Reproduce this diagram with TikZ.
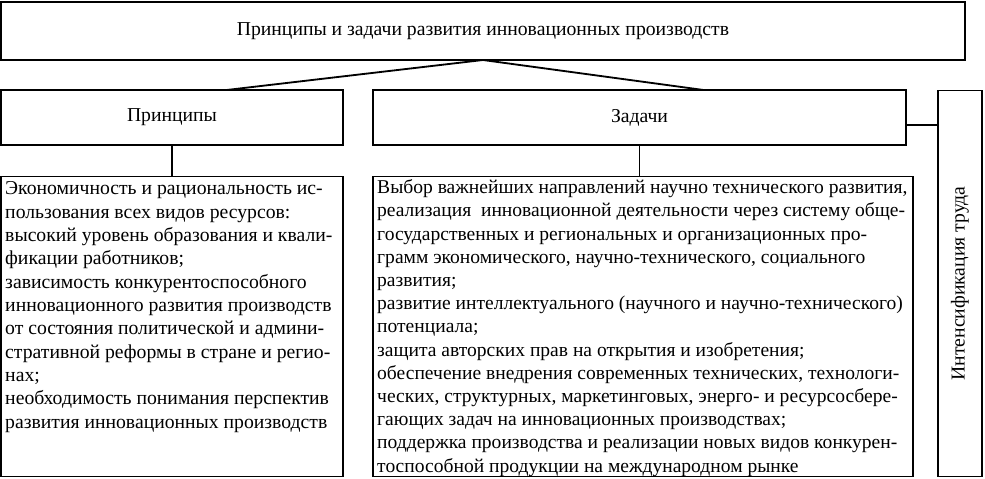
\documentclass[tikz,border=0pt]{standalone}
\usepackage{fontspec}
\setmainfont{Liberation Serif}
\usetikzlibrary{positioning,calc}

\begin{document}
\begin{tikzpicture}[
    x=0.025cm, y=-0.025cm,
    box/.style={rectangle, draw, line width=1.3pt, inner sep=0pt, outer sep=0pt, align=center},
    listtext/.style={anchor=north west, inner sep=0pt, align=left},
    link/.style={line width=1.3pt},
    every node/.style={font=\fontsize{14}{16.5}\selectfont}
]
    \useasboundingbox (0,0) rectangle (985,479);

    % Title
    \node[box, minimum width=24.1cm, minimum height=1.45cm] (title) at (483,31)
        {Принципы и задачи развития инновационных производств};

    % Second level
    \node[box, minimum width=8.55cm, minimum height=1.375cm] (prin) at (172,117.5) {Принципы};
    \node[box, minimum width=13.325cm, minimum height=1.375cm] (zad) at (639.5,117.5) {Задачи};
    \node[box, minimum width=1.1cm, minimum height=9.65cm] (intens) at (960,283.5)
        {\rotatebox{90}{Интенсификация труда}};

    % Lists
    \node[box, minimum width=8.55cm, minimum height=7.5cm] (prinlist) at (172,326.5) {};
    \node[box, minimum width=13.5cm, minimum height=7.5cm] (zadlist) at (643,326.5) {};

    \node[listtext, font=\fontsize{14}{16.6}\selectfont] (printext) at ([shift={(4,5)}]prinlist.north west)
        {Экономичность и рациональность ис-\\
         пользования всех видов ресурсов:\\
         высокий уровень образования и квали-\\
         фикации работников;\\
         зависимость конкурентоспособного\\
         инновационного развития производств\\
         от состояния политической и админи-\\
         стративной реформы в стране и регио-\\
         нах;\\
         необходимость понимания перспектив\\
         развития инновационных производств};

    \node[listtext, font=\fontsize{13.9}{16.5}\selectfont] (zadtext) at ([shift={(4,3)}]zadlist.north west)
        {Выбор важнейших направлений научно технического развития,\\
         реализация\ \ инновационной деятельности через систему обще-\\
         государственных и региональных и организационных про-\\
         грамм экономического, научно-технического, социального\\
         развития;\\
         развитие интеллектуального (научного и научно-технического)\\
         потенциала;\\
         защита авторских прав на открытия и изобретения;\\
         обеспечение внедрения современных технических, технологи-\\
         ческих, структурных, маркетинговых, энерго- и ресурсосбере-\\
         гающих задач на инновационных производствах;\\
         поддержка производства и реализации новых видов конкурен-\\
         тоспособной продукции на международном рынке};

    % Connectors
    \draw[link] (title.south) -- ($(prin.north west)!0.66!(prin.north east)$);
    \draw[link] (title.south) -- ($(zad.north west)!0.62!(zad.north east)$);
    \draw[link] (prin.south) -- (prinlist.north);
    \draw[link] (zad.south) -- (zad.south |- zadlist.north);
    \coordinate (zadright) at ($(zad.north east)!0.64!(zad.south east)$);
    \draw[link] (zadright) -- (zadright -| intens.west);
\end{tikzpicture}
\end{document}
